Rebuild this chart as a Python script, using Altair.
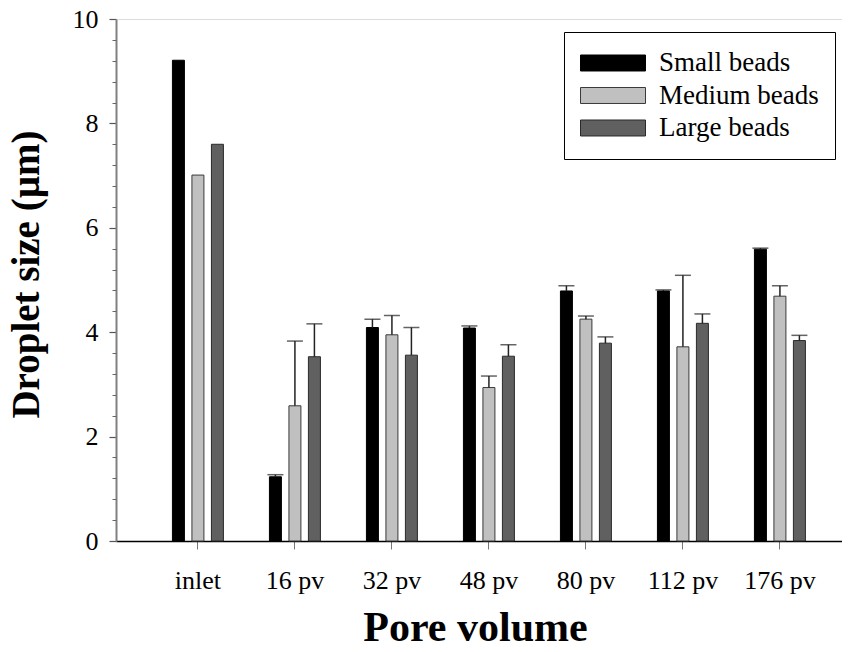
import altair as alt
import pandas as pd

categories = ["inlet", "16 pv", "32 pv", "48 pv", "80 pv", "112 pv", "176 pv"]
beads = ["Small beads", "Medium beads", "Large beads"]

small = [9.21, 1.23, 4.09, 4.08, 4.79, 4.79, 5.59]
medium = [7.01, 2.59, 3.95, 2.94, 4.25, 3.72, 4.69]
large = [7.60, 3.53, 3.56, 3.54, 3.79, 4.17, 3.84]

small_err = [None, 0.04, 0.16, 0.04, 0.10, 0.02, 0.02]
medium_err = [None, 1.24, 0.37, 0.22, 0.06, 1.37, 0.20]
large_err = [None, 0.63, 0.53, 0.22, 0.12, 0.18, 0.10]

fills = ["#000000", "#c0c0c0", "#606060"]
strokes = ["#000000", "#3a3a3a", "#2a2a2a"]

rows = []
for bead, vals, errs in zip(beads, [small, medium, large], [small_err, medium_err, large_err]):
    for cat, v, e in zip(categories, vals, errs):
        rows.append({"pv": cat, "bead": bead, "size": v,
                     "upper": (v + e) if e is not None else None})
df = pd.DataFrame(rows)
df_err = df.dropna(subset=["upper"])

FONT = "Liberation Serif"

x_axis = alt.Axis(
    title="Pore volume", labelFont=FONT, labelFontSize=26, labelAngle=0,
    labelColor="black", labelPadding=18, tickSize=8, tickColor="#777777",
    domainColor="black", domainWidth=1.5, titleFont=FONT, titleFontSize=42,
    titleFontWeight="bold", titleColor="black", titleY=99, titleX=359,
    titleBaseline="alphabetic", titleAlign="center", grid=False)

x_enc = alt.X("pv:N", sort=categories, axis=x_axis,
              scale=alt.Scale(domain=categories, paddingInner=0,
                              paddingOuter=0.2423, align=0.711))
# two empty slots on either side keep the three bars close together
offset_domain = ["_left"] + beads + ["_right"]
xo_enc = alt.XOffset("bead:N",
                     scale=alt.Scale(domain=offset_domain, paddingInner=0.385, paddingOuter=0.18))

y_scale = alt.Scale(domain=[0, 10], nice=False)

y_major = alt.Axis(
    values=[0, 2, 4, 6, 8, 10], title="Droplet size (µm)", labelFont=FONT,
    labelFontSize=26, labelColor="black", labelPadding=11, tickSize=7,
    tickColor="#555555", tickWidth=1.2, domainColor="#808080", domainWidth=2,
    titleFont=FONT, titleFontSize=39, titleFontWeight="bold", titleColor="black",
    titleX=-78, titleY=255, titleAngle=270, titleBaseline="alphabetic",
    titleAlign="center", grid=False, orient="left")

minor_vals = [0.4, 0.8, 1.2, 1.6, 2.4, 2.8, 3.2, 3.6, 4.4, 4.8, 5.2, 5.6,
              6.4, 6.8, 7.2, 7.6, 8.4, 8.8, 9.2, 9.6]
y_minor = alt.Axis(values=minor_vals, labels=False, title=None, tickSize=4,
                   tickColor="#666666", domain=False, grid=False, orient="left")

bars = alt.Chart(df).mark_bar(strokeWidth=1).encode(
    x=x_enc,
    xOffset=xo_enc,
    y=alt.Y("size:Q", scale=y_scale, axis=y_major),
    color=alt.Color("bead:N", sort=beads,
                    scale=alt.Scale(domain=beads, range=fills),
                    legend=alt.Legend(
                        title=None, orient="none", legendX=448, legendY=13,
                        symbolType="M-1,-0.246H1V0.246H-1Z", symbolSize=4225,
                        clipHeight=30, rowPadding=2.5, padding=16, labelOffset=13,
                        labelFont=FONT, labelFontSize=27, labelColor="black",
                        labelLimit=400, strokeColor="black", fillColor="white",
                        symbolStrokeColor="#333333", symbolStrokeWidth=1,
                        symbolOpacity=1)),
    stroke=alt.Stroke("bead:N", sort=beads,
                      scale=alt.Scale(domain=beads, range=strokes), legend=None),
)

rules = alt.Chart(df_err).mark_rule(color="#222222", strokeWidth=1.5).encode(
    x=x_enc,
    xOffset=xo_enc,
    y=alt.Y("size:Q", scale=y_scale, axis=y_minor),
    y2="upper:Q",
)

caps = alt.Chart(df_err).mark_tick(color="#222222", thickness=1.5, size=16,
                                   orient="horizontal").encode(
    x=x_enc,
    xOffset=xo_enc,
    y=alt.Y("upper:Q", scale=y_scale, axis=None),
)

chart = alt.layer(bars, rules, caps).resolve_axis(y="independent").properties(
    width=726, height=522,
    autosize=alt.AutoSizeParams(type="none"),
    padding={"left": 108, "top": 11, "right": 0, "bottom": 102},
).configure_view(stroke=None).configure_legend(strokeWidth=1.5).configure(background="white")

chart.save("out.html", embed_options={"renderer": "svg", "actions": False})
